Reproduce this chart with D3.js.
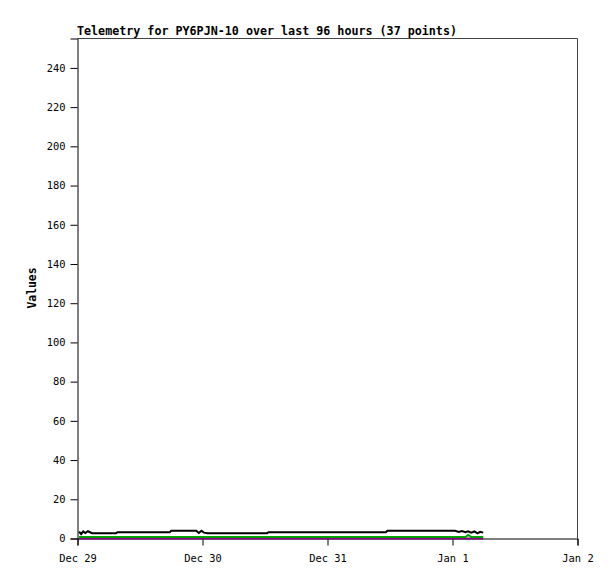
<!DOCTYPE html>
<html>
<head>
<meta charset="utf-8">
<script src="https://cdn.jsdelivr.net/npm/d3@7"></script>
<style>
  body { margin: 0; background: #fff; }
  text { font-family: "DejaVu Sans Mono", monospace; }
</style>
</head>
<body>
<svg id="chart" width="615" height="579"></svg>
<script>
// hours after Dec 29 00:00
const hours = [0.3, 0.7, 1.1, 1.5, 2.0, 2.4, 2.8, 7.4, 7.7, 12.5, 17.7, 18.0,
  22.8, 23.3, 23.8, 24.3, 25.0, 30.0, 36.4, 36.7, 42.0, 48.0, 54.0, 59.2, 59.5,
  64.0, 68.0, 72.5, 73.2, 73.8, 74.5, 75.0, 75.6, 76.2, 76.8, 77.3, 77.9];
const seriesA = [3.5, 2.2, 3.6, 2.8, 3.7, 3.2, 2.7, 2.7, 3.2, 3.2, 3.2, 3.9,
  3.9, 2.8, 3.9, 3.0, 2.7, 2.7, 2.7, 3.2, 3.2, 3.2, 3.2, 3.2, 3.9,
  3.9, 3.9, 3.9, 3.3, 3.8, 3.2, 3.7, 3.0, 3.6, 2.6, 3.4, 3.0];
const seriesB = [0.8, 0.8, 0.8, 0.8, 0.8, 0.8, 0.8, 0.8, 0.8, 0.8, 0.8, 0.8,
  0.8, 0.8, 0.8, 0.8, 0.8, 0.8, 0.8, 0.8, 0.8, 0.8, 0.8, 0.8, 0.8,
  0.8, 0.8, 0.8, 0.8, 0.8, 0.8, 1.8, 0.8, 0.8, 0.8, 0.8, 0.8];
const seriesC = hours.map(() => 0);
const yTicks = [0, 20, 40, 60, 80, 100, 120, 140, 160, 180, 200, 220, 240];
const dayLabels = ["Dec 29", "Dec 30", "Dec 31", "Jan 1", "Jan 2"];

const start = new Date(2023, 11, 29);
const times = hours.map((h) => new Date(start.getTime() + h * 3600 * 1000));
const dayTicks = dayLabels.map((d, i) => new Date(start.getTime() + i * 86400 * 1000));

const svg = d3.select("#chart");
const mLeft = 77.5, mRight = 577.5, mTop = 38.5, mBottom = 538.5;

let x = d3.scaleTime().domain([dayTicks[0], dayTicks[4]]).range([mLeft, mRight]);
let y = d3.scaleLinear().domain([0, 255]).range([mBottom, mTop]);

// frame
svg.append("path")
  .attr("d", `M${mLeft},${mTop}H${mRight}V${mBottom}`)
  .attr("fill", "none")
  .attr("stroke", "#444");

let yAxis = svg.append("g")
  .attr("transform", `translate(${mLeft},0)`)
  .call(d3.axisLeft(y).tickValues(yTicks).tickSize(7).tickPadding(5));
let xAxis = svg.append("g")
  .attr("transform", `translate(0,${mBottom})`)
  .call(d3.axisBottom(x).tickValues(dayTicks).tickSize(7).tickPadding(9)
    .tickFormat((d, i) => dayLabels[i]));

[yAxis, xAxis].forEach((a) => {
  a.select(".domain").attr("stroke", "#000");
  a.selectAll(".tick line").attr("stroke", "#000");
  a.selectAll("text")
    .attr("fill", "#000")
    .style("font-family", "DejaVu Sans Mono, monospace")
    .style("font-size", "10.4px");
});

const line = (vals) => d3.line()
  .x((d, i) => x(times[i]))
  .y((d) => y(d))(vals);

svg.append("path").attr("d", line(seriesC))
  .attr("fill", "none").attr("stroke", "#800080").attr("stroke-width", 2);
svg.append("path").attr("d", line(seriesB))
  .attr("fill", "none").attr("stroke", "#00a000").attr("stroke-width", 2);
svg.append("path").attr("d", line(seriesA))
  .attr("fill", "none").attr("stroke", "#000").attr("stroke-width", 2);

svg.append("text")
  .attr("x", 77)
  .attr("y", 35)
  .style("font-size", "11.7px")
  .style("font-weight", "bold")
  .text("Telemetry for PY6PJN-10 over last 96 hours (37 points)");

svg.append("text")
  .attr("transform", "translate(36,288) rotate(-90)")
  .attr("text-anchor", "middle")
  .style("font-size", "11.4px")
  .style("font-weight", "bold")
  .text("Values");
</script>
</body>
</html>
